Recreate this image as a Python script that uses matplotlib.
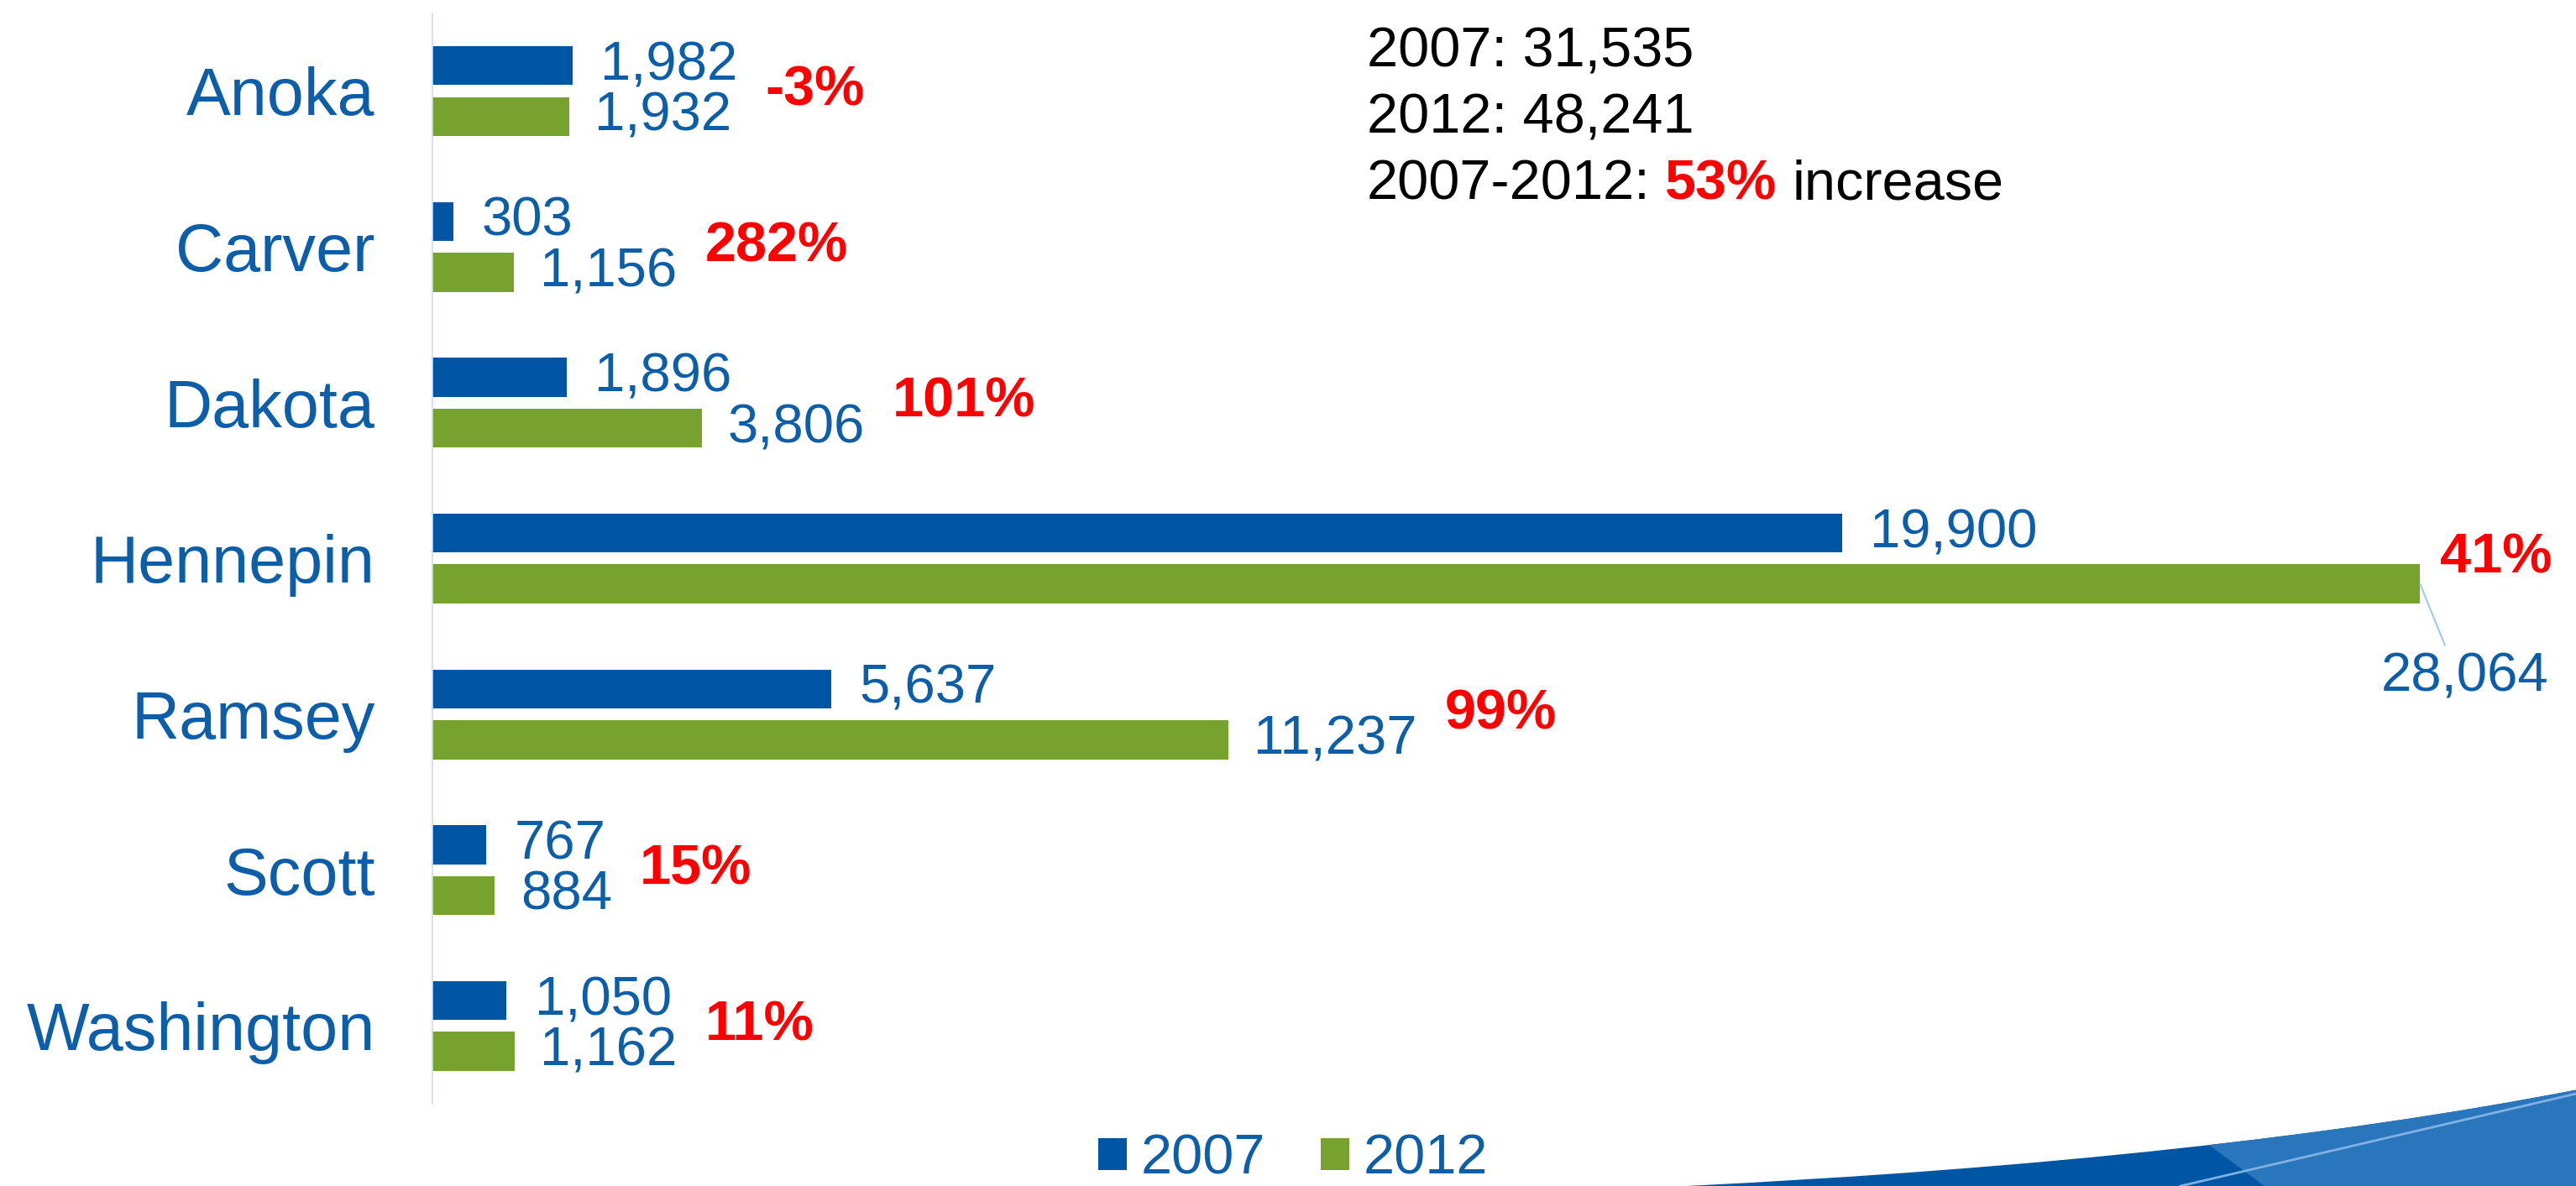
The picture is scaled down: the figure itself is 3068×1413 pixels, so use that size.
import numpy as np
import matplotlib.pyplot as plt
from matplotlib.path import Path
from matplotlib.patches import PathPatch, Polygon

counties = ["Anoka", "Carver", "Dakota", "Hennepin", "Ramsey", "Scott", "Washington"]
jobs_2007 = [1982, 303, 1896, 19900, 5637, 767, 1050]
jobs_2012 = [1932, 1156, 3806, 28064, 11237, 884, 1162]
pct_change = ["-3%", "282%", "101%", "41%", "99%", "15%", "11%"]
total_2007 = "31,535"
total_2012 = "48,241"
total_change = "53%"

BLUE = "#0055a5"
GREEN = "#78a22f"
TXT = "#0d5ea8"
RED = "#ff0000"

plt.rcParams['font.family'] = ['Liberation Sans', 'DejaVu Sans']

fig = plt.figure(figsize=(30.68, 14.13), dpi=100)
ax = fig.add_axes([263 / 1568, 1 - 672 / 722, 1 - 263 / 1568, (672 - 8) / 722])
ax.set_facecolor("none")

y = np.arange(len(counties))
off = 0.163
bars07 = ax.barh(y - off, jobs_2007, height=0.25, color=BLUE, label="2007")
bars12 = ax.barh(y + off, jobs_2012, height=0.25, color=GREEN, label="2012")

ax.set_ylim(6.5, -0.5)
ax.set_xlim(0, 30265)
ax.set_yticks(y, counties, fontsize=57, color=TXT)
ax.tick_params(axis='y', length=0, pad=49)
ax.set_xticks([])
for s in ['top', 'right', 'bottom']:
    ax.spines[s].set_visible(False)
ax.spines['left'].set_color('#c9def2')
ax.spines['left'].set_linewidth(1.2)

# подписи значений
big = int(np.argmax(jobs_2012))
labels07 = []
labels12 = []
for i, v in enumerate(jobs_2007):
    t = ax.annotate(f"{v:,}", xy=(v, i - off), xytext=(24, 0), textcoords='offset points',
                    va='center', ha='left', fontsize=47, color=TXT)
    labels07.append(t)
for i, v in enumerate(jobs_2012):
    if i == big:
        # самая длинная полоса: подпись снизу с выноской
        t = ax.annotate(f"{v:,}", xy=(v, i + off), xytext=(38, -80), textcoords='offset points',
                        va='center', ha='center', fontsize=47, color=TXT,
                        arrowprops=dict(arrowstyle='-', color='#9cc9ef', lw=1.5,
                                        relpos=(0.4, 1.0), shrinkA=4, shrinkB=0))
    else:
        t = ax.annotate(f"{v:,}", xy=(v, i + off), xytext=(22, 0), textcoords='offset points',
                        va='center', ha='left', fontsize=47, color=TXT)
    labels12.append(t)

# проценты изменения
for i, p in enumerate(pct_change):
    if i == big:
        anchor = bars12[i]
        dx = 17
    else:
        anchor = labels07[i] if jobs_2007[i] >= jobs_2012[i] else labels12[i]
        dx = 24
    ax.annotate(p, xy=(1, i), xycoords=(anchor, 'data'), xytext=(dx, 0),
                textcoords='offset points', va='center', ha='left',
                fontsize=48, fontweight='bold', color=RED)

# итоги справа сверху
fig.text(0.5305, 0.944, f"2007: {total_2007}", fontsize=48, va='baseline', color='black')
fig.text(0.5305, 0.8875, f"2012: {total_2012}", fontsize=48, va='baseline', color='black')
t1 = fig.text(0.5305, 0.8316, "2007-2012:", fontsize=48, va='baseline', color='black')
t2 = ax.annotate(total_change, xy=(1, 0), xycoords=t1, xytext=(13, 0), textcoords='offset points',
                 va='bottom', ha='left', fontsize=48, fontweight='bold', color=RED)
ax.annotate("increase", xy=(1, 0), xycoords=t2, xytext=(13, 0), textcoords='offset points',
            va='bottom', ha='left', fontsize=48, color='black')

# легенда
fig.legend(handles=[bars07, bars12], labels=["2007", "2012"], loc='center',
           bbox_to_anchor=(0.502, 0.022), ncol=2, frameon=False, fontsize=48,
           handlelength=0.5, handleheight=0.5, handletextpad=0.25, columnspacing=1.0,
           borderpad=0, labelcolor=TXT)

# декоративная волна внизу справа
verts = [(0.655, 0.0), (0.86, 0.022), (1.0, 0.081), (1.0, 0.0), (0.655, 0.0)]
codes = [Path.MOVETO, Path.CURVE3, Path.CURVE3, Path.LINETO, Path.CLOSEPOLY]
swoosh = PathPatch(Path(verts, codes), facecolor=BLUE, edgecolor='none',
                   transform=fig.transFigure, zorder=1)
fig.add_artist(swoosh)
light = Polygon([(0.857, 0.0354), (0.879, 0.0), (1.0, 0.0), (1.0, 0.12), (0.857, 0.12)],
                closed=True, facecolor='#2a76bd', edgecolor='none',
                transform=fig.transFigure, zorder=1.1)
fig.add_artist(light)
light.set_clip_path(swoosh)
ln = plt.Line2D([0.8465, 1.0], [0.0, 0.0778], color='#7fb2e2', lw=2,
                transform=fig.transFigure, zorder=1.2)
fig.add_artist(ln)
ln.set_clip_path(swoosh)

plt.savefig("out.png", dpi=100)
plt.close()
